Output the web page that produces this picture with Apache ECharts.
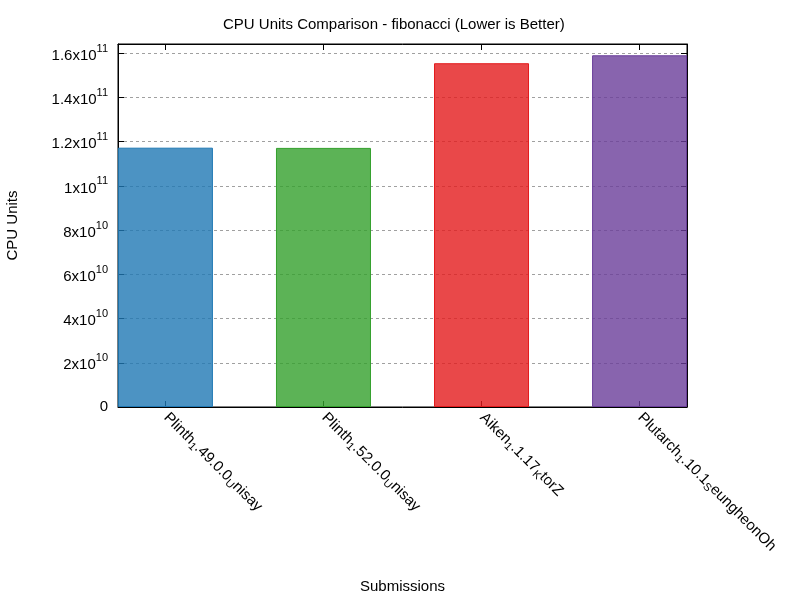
<!DOCTYPE html>
<html>
<head>
<meta charset="utf-8">
<script src="https://cdn.jsdelivr.net/npm/echarts@6/dist/echarts.min.js"></script>
<style>
  html, body { margin: 0; padding: 0; background: #fff; }
  #main { width: 800px; height: 600px; }
</style>
</head>
<body>
<div id="main"></div>
<script>
// submissions, as gnuplot saw them ("_x" = subscript x)
var submissions = ['Plinth_1.49.0.0_Unisay', 'Plinth_1.52.0.0_Unisay', 'Aiken_1.1.17_KtorZ', 'Plutarch_1.10.1_SeungheonOh'];
var cpuUnits = [1.173e11, 1.172e11, 1.555e11, 1.591e11];
var barColors = ['#1f78b4', '#33a02c', '#e31a1c', '#6a3d9a'];
var positions = [0, 1, 2, 3];

var FONT = 'Liberation Sans, Arial, sans-serif';

function hexToRgba(hex, a) {
  var n = parseInt(hex.slice(1), 16);
  return 'rgba(' + (n >> 16 & 255) + ',' + (n >> 8 & 255) + ',' + (n & 255) + ',' + a + ')';
}

// gnuplot enhanced text: "_c" -> subscript
function subLabel(s) {
  return '{n|' + s.replace(/_(.)/g, '}{s|$1}{n|') + '}';
}

// 1.6e11 -> 1.6x10^11
function sciLabel(v) {
  if (v === 0) return '0';
  var e = Math.floor(Math.log10(v) + 1e-9);
  var m = Math.round(v / Math.pow(10, e) * 100) / 100;
  return '{n|' + m + 'x10}{p|' + e + '}';
}

var myChart = echarts.init(document.getElementById('main'));

var option = {
  backgroundColor: '#fff',
  animation: false,
  title: {
    text: 'CPU Units Comparison - fibonacci (Lower is Better)',
    left: 218,
    top: 12,
    textStyle: { fontFamily: FONT, fontSize: 15, fontWeight: 'normal', color: '#000' }
  },
  grid: {
    left: 118, right: 113, top: 44, bottom: 193,
    outerBoundsMode: 'none',
    show: true, borderColor: '#000', borderWidth: 1
  },
  xAxis: [{
    type: 'value',
    min: -0.3,
    max: 3.3,
    name: 'Submissions',
    nameLocation: 'middle',
    nameGap: 172,
    nameTextStyle: { fontFamily: FONT, fontSize: 15, color: '#000' },
    axisLine: { show: true, onZero: false, lineStyle: { color: '#000' } },
    axisTick: { show: true, inside: true, length: 6, customValues: positions, lineStyle: { color: '#000' } },
    splitLine: { show: false },
    axisLabel: {
      customValues: positions,
      rotate: -45,
      margin: 9,
      fontFamily: FONT,
      color: '#000',
      formatter: function (v) { return subLabel(submissions[Math.round(v)]); },
      rich: {
        n: { fontFamily: FONT, fontSize: 15, color: '#000', lineHeight: 16, verticalAlign: 'top' },
        s: { fontFamily: FONT, fontSize: 11, color: '#000', lineHeight: 17, verticalAlign: 'bottom' }
      }
    }
  }, {
    type: 'value',
    position: 'top',
    min: -0.3,
    max: 3.3,
    axisLine: { show: true, onZero: false, lineStyle: { color: '#000' } },
    axisTick: { show: true, inside: true, length: 6, customValues: positions, lineStyle: { color: '#000' } },
    axisLabel: { show: false },
    splitLine: { show: false }
  }],
  yAxis: [{
    type: 'value',
    min: 0,
    max: 1.642e11,
    interval: 2e10,
    name: 'CPU Units',
    nameLocation: 'middle',
    nameGap: 98,
    nameTextStyle: { fontFamily: FONT, fontSize: 15, color: '#000' },
    axisLine: { show: true, onZero: false, lineStyle: { color: '#000' } },
    axisTick: { show: true, inside: true, length: 6, lineStyle: { color: '#000' } },
    splitLine: { show: true, lineStyle: { color: '#a0a0a0', type: [3, 3], width: 1 } },
    axisLabel: {
      showMaxLabel: false,
      margin: 10,
      fontFamily: FONT,
      fontSize: 15,
      color: '#000',
      formatter: sciLabel,
      rich: {
        n: { fontFamily: FONT, fontSize: 15, color: '#000', lineHeight: 20, verticalAlign: 'bottom' },
        p: { fontFamily: FONT, fontSize: 11, color: '#000', lineHeight: 11, verticalAlign: 'top' }
      }
    }
  }, {
    type: 'value',
    position: 'right',
    min: 0,
    max: 1.642e11,
    interval: 2e10,
    axisLine: { show: true, onZero: false, lineStyle: { color: '#000' } },
    axisTick: { show: true, inside: true, length: 6, lineStyle: { color: '#000' } },
    axisLabel: { show: false },
    splitLine: { show: false }
  }],
  series: [{
    type: 'bar',
    barWidth: 95,
    data: cpuUnits.map(function (v, i) {
      return {
        value: [positions[i], v],
        itemStyle: { color: hexToRgba(barColors[i], 0.8), borderColor: barColors[i], borderWidth: 1 }
      };
    })
  }]
};

myChart.setOption(option);
</script>
</body>
</html>
